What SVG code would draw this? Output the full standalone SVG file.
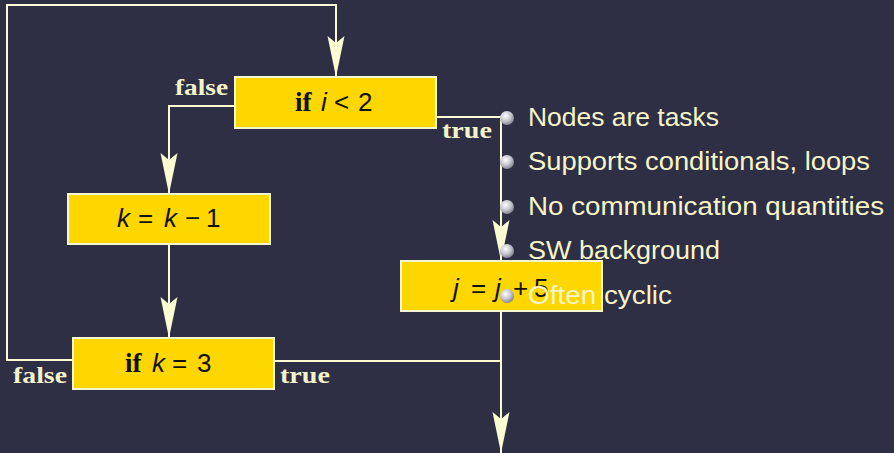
<svg xmlns="http://www.w3.org/2000/svg" width="894" height="453" viewBox="0 0 894 453">
<defs>
<marker id="arr" markerUnits="userSpaceOnUse" viewBox="-42 -9 43 18" refX="0" refY="0" markerWidth="43" markerHeight="18" orient="auto">
<path d="M0,0 L-41,-8.5 L-34,0 L-41,8.5 Z" fill="#fcfcd2"/>
</marker>
<radialGradient id="ball" cx="0.4" cy="0.35" r="0.7">
<stop offset="0" stop-color="#ffffff"/>
<stop offset="0.55" stop-color="#c4c4cc"/>
<stop offset="1" stop-color="#7a7a86"/>
</radialGradient>
<style>
.bg{fill:#2e2f45}
.node rect{fill:#ffd700;stroke:#f8f6cc;stroke-width:2}
.c{fill:none;stroke:#fcfcd2;stroke-width:2}
.lbl{font-family:"Liberation Serif",serif;font-weight:bold;font-size:24px;fill:#f4f2c8}
.m{font-family:"Liberation Sans",sans-serif;font-size:26px;fill:#111}
.mi{font-style:italic}
.mb{font-family:"Liberation Serif",serif;font-weight:bold;font-size:27px}
.ms{font-family:"Liberation Sans",sans-serif;font-size:26px}
.item{font-family:"Liberation Sans",sans-serif;font-size:26px;fill:#f6f4c8}
</style>
</defs>
<rect class="bg" x="0" y="0" width="894" height="453"/>
<g id="connectors">
<path class="c" d="M73,360 H7 V5 H336 V77" marker-end="url(#arr)"/>
<path class="c" d="M235,106 H169 V194" marker-end="url(#arr)"/>
<path class="c" d="M169,244 V338" marker-end="url(#arr)"/>
<path class="c" d="M436,117 H501 V261" marker-end="url(#arr)"/>
<path class="c" d="M501,311 V453" marker-end="url(#arr)"/>
<path class="c" d="M274,361 H501"/>
</g>
<g id="n1" class="node">
<rect x="235" y="77" width="201" height="51"/>
<text class="m" y="111"><tspan class="mb" x="295">if</tspan><tspan class="mi" x="321">i</tspan><tspan class="ms" x="334">&lt;</tspan><tspan x="358">2</tspan></text>
</g>
<g id="n2" class="node">
<rect x="68" y="194" width="202" height="50"/>
<text class="m" y="227"><tspan class="mi" x="117">k</tspan><tspan class="ms" x="138">=</tspan><tspan class="mi" x="164">k</tspan><tspan class="ms" x="185">−</tspan><tspan x="206">1</tspan></text>
</g>
<g id="n3" class="node">
<rect x="401" y="261" width="201" height="50"/>
<text class="m" y="297"><tspan class="mi" x="453">j</tspan><tspan class="ms" x="471">=</tspan><tspan class="mi" x="495">j</tspan><tspan class="ms" x="513">+</tspan><tspan x="534">5</tspan></text>
</g>
<g id="n4" class="node">
<rect x="73" y="338" width="201" height="51"/>
<text class="m" y="372"><tspan class="mb" x="125">if</tspan><tspan class="mi" x="152">k</tspan><tspan class="ms" x="172">=</tspan><tspan x="197">3</tspan></text>
</g>
<g id="labels">
<text class="lbl" x="175" y="95" textLength="53" lengthAdjust="spacingAndGlyphs">false</text>
<text class="lbl" x="442" y="138" textLength="50" lengthAdjust="spacingAndGlyphs">true</text>
<text class="lbl" x="13" y="383" textLength="54" lengthAdjust="spacingAndGlyphs">false</text>
<text class="lbl" x="280" y="383" textLength="50" lengthAdjust="spacingAndGlyphs">true</text>
</g>
<g id="bullets">
<circle cx="507" cy="118" r="7" fill="url(#ball)"/>
<circle cx="507" cy="162" r="7" fill="url(#ball)"/>
<circle cx="507" cy="207" r="7" fill="url(#ball)"/>
<circle cx="507" cy="251" r="7" fill="url(#ball)"/>
<circle cx="507" cy="296" r="7" fill="url(#ball)"/>
<text class="item" x="528" y="126" textLength="191" lengthAdjust="spacingAndGlyphs">Nodes are tasks</text>
<text class="item" x="528" y="170" textLength="342" lengthAdjust="spacingAndGlyphs">Supports conditionals, loops</text>
<text class="item" x="528" y="215" textLength="356" lengthAdjust="spacingAndGlyphs">No communication quantities</text>
<text class="item" x="528" y="259" textLength="192" lengthAdjust="spacingAndGlyphs">SW background</text>
<text class="item" x="528" y="304" textLength="144" lengthAdjust="spacingAndGlyphs">Often cyclic</text>
</g>
</svg>
